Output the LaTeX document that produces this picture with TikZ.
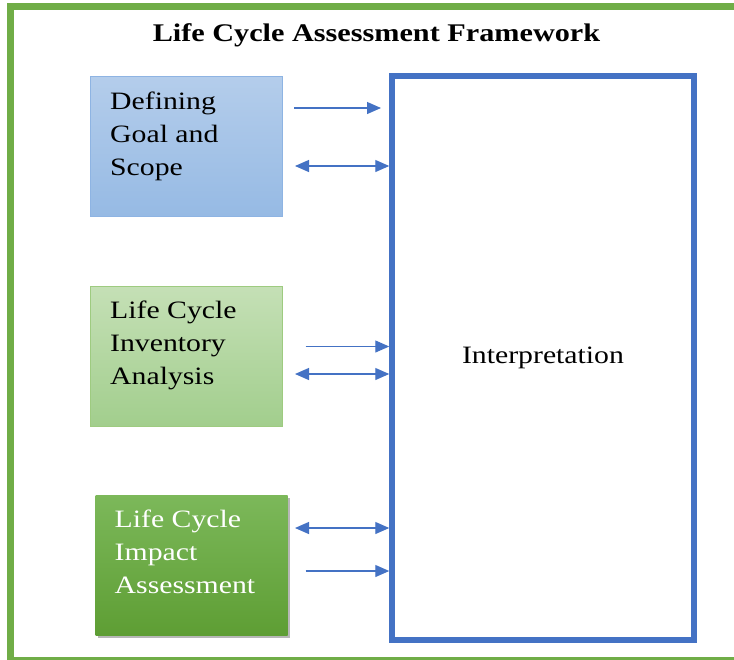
\documentclass[tikz,border=0pt]{standalone}
\usepackage{fontspec}
\setmainfont[FakeStretch=1.19]{Liberation Serif}
\usetikzlibrary{shadows,arrows.meta}
\definecolor{frameGreen}{HTML}{70AD47}
\definecolor{accBlue}{HTML}{4472C4}
\definecolor{b1top}{RGB}{180,205,235}
\definecolor{b1bot}{RGB}{150,186,228}
\definecolor{b1line}{RGB}{142,180,227}
\definecolor{b2top}{RGB}{197,224,182}
\definecolor{b2bot}{RGB}{162,206,141}
\definecolor{b2line}{RGB}{158,203,128}
\definecolor{b3top}{RGB}{124,184,90}
\definecolor{b3bot}{RGB}{94,158,52}
\tikzset{
  bodyfont/.style={font=\fontsize{25}{33}\selectfont},
  phasebox/.style={rectangle, minimum width=192pt, minimum height=140pt, inner sep=0pt, line width=1pt},
  boxtext/.style={bodyfont, anchor=base west, inner sep=0pt},
  conn/.style={draw=accBlue, line width=1.2pt},
  tip/.tip={Triangle[length=14pt,width=12pt]},
  onearrow/.style={conn, -tip},
  twoarrow/.style={conn, tip-tip}
}
\begin{document}
\begin{tikzpicture}[x=1pt,y=-1pt]
\useasboundingbox (0,0) rectangle (734,659);
\fill[white] (0,0) rectangle (734,659);
\begin{scope}
  \clip (0,0) rectangle (734,659);
  \draw[frameGreen, line width=7pt] (10,6.5) rectangle (800,660);
\end{scope}

\node[font=\fontsize{25.4}{33}\selectfont\bfseries, anchor=base] (title) at (376.5,41) {Life Cycle Assessment Framework};

% phase boxes
\node[phasebox, draw=b1line, top color=b1top, bottom color=b1bot] (box1) at (186.7,146.3) {};
\node[phasebox, draw=b2line, top color=b2top, bottom color=b2bot] (box2) at (186.7,356) {};
\node[phasebox, top color=b3top, bottom color=b3bot,
      drop shadow={shadow xshift=2.5pt, shadow yshift=-3pt, opacity=0.4, fill=black!70}] (box3) at (191.7,565) {};

\node[boxtext] (t1) at (110,109.5) {\begin{tabular}[t]{@{}l@{}}Defining\\Goal and\\Scope\end{tabular}};
\node[boxtext] (t2) at (110,318.5) {\begin{tabular}[t]{@{}l@{}}Life Cycle\\Inventory\\Analysis\end{tabular}};
\node[boxtext, text=white] (t3) at (114.5,527) {\begin{tabular}[t]{@{}l@{}}Life Cycle\\Impact\\Assessment\end{tabular}};

% interpretation
\node[draw=accBlue, line width=5.5pt, minimum width=302pt, minimum height=564pt, inner sep=0pt, bodyfont] (interp) at (543,358) {Interpretation};

% free ends
\coordinate (s1) at (294,108);
\coordinate (e1) at (381,108);
\coordinate (s2) at (295,166);
\coordinate (s3) at (305.5,346.5);
\coordinate (s4) at (295,374);
\coordinate (s5) at (295,528);
\coordinate (s6) at (305.5,571);

\draw[onearrow] (s1) -- (e1);
\draw[twoarrow] (s2) -- (s2 -| interp.west);
\draw[onearrow] (s3) -- (s3 -| interp.west);
\draw[twoarrow] (s4) -- (s4 -| interp.west);
\draw[twoarrow] (s5) -- (s5 -| interp.west);
\draw[onearrow] (s6) -- (s6 -| interp.west);
\end{tikzpicture}
\end{document}
